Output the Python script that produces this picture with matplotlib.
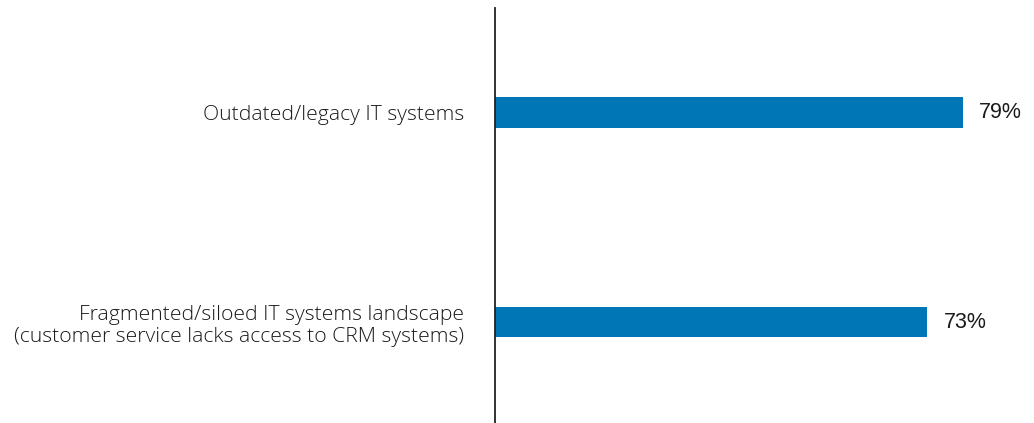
import matplotlib
matplotlib.use("Agg")
import matplotlib.pyplot as plt

categories = ["Outdated/legacy IT systems",
              "Fragmented/siloed IT systems landscape\n(customer service lacks access to CRM systems)"]
values = [79, 73]
value_labels = ["79%", "73%"]

fig = plt.figure(figsize=(10.34, 4.23), dpi=100)
ax = fig.add_axes([495 / 1034, 0, 1 - 495 / 1034, 415 / 423])

ypos = list(range(len(categories)))
ax.barh(ypos, values, height=0.148, color="#0076b6")

ax.set_xlim(0, 91.05)
ax.set_ylim(1.483, -0.502)

for y, v, lab in zip(ypos, values, value_labels):
    ax.text(v + 2.8, y, lab, va="center", ha="left", fontsize=15.5,
            family="Liberation Sans", color="#1a1a1a")

ax.set_yticks(ypos)
ax.set_yticklabels(categories, fontsize=15.2, family="Open Sans",
                   fontweight="light", color="#1a1a1a", linespacing=1.15)
ax.tick_params(axis="y", length=0, pad=22)
ax.set_xticks([])
for s in ["top", "right", "bottom"]:
    ax.spines[s].set_visible(False)
ax.spines["left"].set_linewidth(1.3)
ax.spines["left"].set_color("#222222")

fig.savefig("out.png", dpi=100)
